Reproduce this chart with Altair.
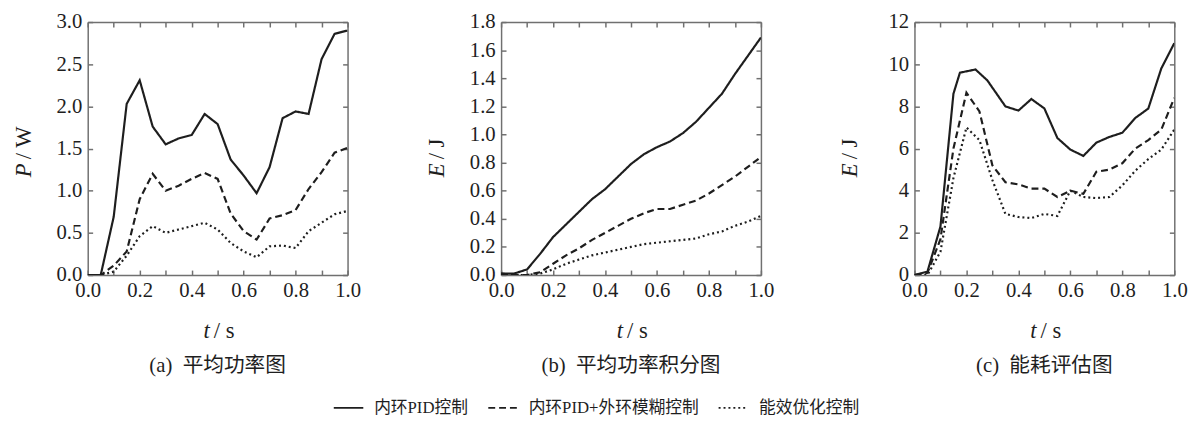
import altair as alt
import pandas as pd

# ---------------- data ----------------
SERIES = ["内环PID控制", "内环PID+外环模糊控制", "能效优化控制"]

T = [0.0, 0.05, 0.1, 0.15, 0.2, 0.25, 0.3, 0.35, 0.4, 0.45, 0.5,
     0.55, 0.6, 0.65, 0.7, 0.75, 0.8, 0.85, 0.9, 0.95, 1.0]

# (a) average power P / W
A_SOLID = [0.0, 0.0, 0.69, 2.03, 2.31, 1.76, 1.55, 1.62, 1.66, 1.91, 1.79,
           1.37, 1.18, 0.97, 1.28, 1.86, 1.94, 1.91, 2.56, 2.86, 2.90]
A_DASH = [0.0, 0.0, 0.11, 0.28, 0.90, 1.20, 1.00, 1.06, 1.14, 1.21, 1.14,
          0.73, 0.52, 0.42, 0.67, 0.71, 0.77, 1.02, 1.22, 1.45, 1.51]
A_DOT = [0.0, 0.0, 0.04, 0.23, 0.46, 0.58, 0.50, 0.54, 0.58, 0.62, 0.54,
         0.38, 0.28, 0.21, 0.34, 0.35, 0.32, 0.52, 0.62, 0.72, 0.76]

# (b) integral of average power E / J
B_SOLID = [0.01, 0.01, 0.04, 0.15, 0.27, 0.36, 0.45, 0.54, 0.61, 0.70, 0.79,
           0.86, 0.91, 0.95, 1.01, 1.09, 1.19, 1.29, 1.43, 1.56, 1.69]
B_DASH = [0.01, 0.0, 0.0, 0.02, 0.08, 0.14, 0.19, 0.25, 0.30, 0.35, 0.40,
          0.44, 0.47, 0.47, 0.50, 0.53, 0.58, 0.64, 0.70, 0.77, 0.84]
B_DOT = [0.0, 0.0, 0.0, 0.01, 0.04, 0.08, 0.11, 0.14, 0.16, 0.18, 0.20,
         0.22, 0.23, 0.24, 0.25, 0.26, 0.29, 0.31, 0.35, 0.38, 0.42]

# (c) energy consumption estimate E / J
C_T_SOLID = [0.0, 0.05, 0.1, 0.15, 0.175, 0.235, 0.28, 0.35, 0.4, 0.45, 0.5,
             0.55, 0.6, 0.65, 0.7, 0.75, 0.8, 0.85, 0.9, 0.95, 1.0]
C_SOLID = [0.0, 0.16, 2.3, 8.6, 9.6, 9.75, 9.24, 8.0, 7.8, 8.35, 7.9,
           6.5, 5.95, 5.65, 6.28, 6.55, 6.75, 7.45, 7.9, 9.8, 11.0]
C_DASH = [0.0, 0.1, 1.7, 6.0, 8.65, 7.76, 5.2, 4.4, 4.3, 4.1, 4.1,
          3.7, 4.0, 3.85, 4.9, 5.0, 5.3, 6.0, 6.4, 6.9, 8.4]
C_DOT = [0.0, 0.0, 1.1, 4.6, 7.0, 6.4, 4.5, 2.9, 2.75, 2.7, 2.9,
         2.8, 4.0, 3.7, 3.65, 3.7, 4.25, 4.95, 5.5, 5.95, 6.9]

X_TICKS = [0.0, 0.1, 0.2, 0.3, 0.4, 0.5, 0.6, 0.7, 0.8, 0.9, 1.0]
A_YTICKS = [0.0, 0.5, 1.0, 1.5, 2.0, 2.5, 3.0]
B_YTICKS = [0.0, 0.2, 0.4, 0.6, 0.8, 1.0, 1.2, 1.4, 1.6, 1.8]
C_YTICKS = [0, 2, 4, 6, 8, 10, 12]

SUBTITLES = ["(a)\u00a0\u00a0平均功率图", "(b)\u00a0\u00a0平均功率积分图", "(c)\u00a0\u00a0能耗评估图"]

# ---------------- style ----------------
W, H = 264, 257
SERIF = "Liberation Serif"
MIXED = "Liberation Serif, Noto Sans CJK SC"
INK = "#1e1e1e"
FRAME = "#707070"
DASHES = [[1, 0], [7, 4], [2, 3]]


def make_df(parts):
    rows = []
    for name, ts, vs in parts:
        for t, v in zip(ts, vs):
            rows.append({"t": t, "v": v, "s": name})
    return pd.DataFrame(rows)


ONE = pd.DataFrame({"k": [0]})


def txt(text, x, y, **kw):
    return alt.Chart(ONE).mark_text(text=text, color=INK, **kw).encode(
        x=alt.value(x), y=alt.value(y))


LEGEND = alt.Legend(title=None, orient="none", legendX=249, legendY=376,
                    direction="horizontal", columns=3, symbolType="stroke",
                    symbolSize=900, symbolStrokeWidth=2, symbolStrokeColor=INK,
                    labelFont=MIXED, labelFontSize=17, labelColor=INK,
                    labelOffset=10, columnPadding=16, labelLimit=0)


def panel(df, ydom, yticks, yfmt, yvar, yunit, subtitle):
    xs = alt.Scale(domain=[0, 1], nice=False, zero=False)
    ys = alt.Scale(domain=ydom, nice=False, zero=False)
    tick = dict(grid=False, domain=False, tickColor=FRAME, tickWidth=1.5,
                tickSize=5, offset=-5, title=None)
    frame = dict(grid=False, domain=True, domainColor=FRAME, domainWidth=1.5,
                 ticks=False, labels=False, offset=0, title=None)
    x_axis = alt.Axis(orient="bottom", values=X_TICKS,
                      labelExpr="round(datum.value*10) % 2 == 0 ? format(datum.value, '.1f') : ''",
                      labelFont=SERIF, labelFontSize=21, labelColor=INK,
                      labelPadding=5, labelFlush=False, labelOverlap=False,
                      **tick)
    y_axis = alt.Axis(orient="left", values=yticks, format=yfmt,
                      labelFont=SERIF, labelFontSize=21, labelColor=INK,
                      labelPadding=6, labelFlush=False, labelOverlap=False,
                      **tick)

    dash = alt.StrokeDash("s:N", scale=alt.Scale(domain=SERIES, range=DASHES),
                          legend=LEGEND)
    lines = alt.Chart(df).mark_line(color=INK, strokeWidth=2.2, clip=True).encode(
        x=alt.X("t:Q", scale=xs, axis=x_axis),
        y=alt.Y("v:Q", scale=ys, axis=y_axis),
        strokeDash=dash,
    )

    def ghost(xa, ya):
        return alt.Chart(df).mark_point(opacity=0, size=0).encode(
            x=alt.X("t:Q", scale=xs, axis=xa),
            y=alt.Y("v:Q", scale=ys, axis=ya),
        )

    mirror = ghost(alt.Axis(orient="top", values=X_TICKS, labels=False, **tick),
                   alt.Axis(orient="right", values=yticks, labels=False, **tick))
    frame_bl = ghost(alt.Axis(orient="bottom", **frame),
                     alt.Axis(orient="left", **frame))
    frame_tr = ghost(alt.Axis(orient="top", **frame),
                     alt.Axis(orient="right", **frame))
    cx = W / 2
    cy = H / 2
    layers = [
        lines, mirror, frame_bl, frame_tr,
        txt("t", cx - 8, H + 64, align="right", baseline="alphabetic",
            font=SERIF, fontSize=23, fontStyle="italic"),
        txt("/ s", cx - 4, H + 64, align="left", baseline="alphabetic",
            font=SERIF, fontSize=23),
        txt(yvar, -58, cy + 15, align="right", baseline="alphabetic",
            angle=270, font=SERIF, fontSize=23, fontStyle="italic"),
        txt("/ " + yunit, -58, cy + 11, align="left", baseline="alphabetic",
            angle=270, font=SERIF, fontSize=23),
        txt(subtitle, cx, H + 93, align="center", baseline="middle",
            font=MIXED, fontSize=21),
    ]
    return alt.layer(*layers).resolve_axis(x="independent", y="independent").properties(
        width=W, height=H)


df_a = make_df([(SERIES[0], T, A_SOLID), (SERIES[1], T, A_DASH), (SERIES[2], T, A_DOT)])
df_b = make_df([(SERIES[0], T, B_SOLID), (SERIES[1], T, B_DASH), (SERIES[2], T, B_DOT)])
df_c = make_df([(SERIES[0], C_T_SOLID, C_SOLID), (SERIES[1], T, C_DASH), (SERIES[2], T, C_DOT)])

pa = panel(df_a, [0, 3], A_YTICKS, ".1f", "P", "W", SUBTITLES[0])
pb = panel(df_b, [0, 1.8], B_YTICKS, ".1f", "E", "J", SUBTITLES[1])
pc = panel(df_c, [0, 12], C_YTICKS, "d", "E", "J", SUBTITLES[2])

chart = alt.hconcat(pa, pb, pc, spacing=66).properties(
    padding={"left": 5, "top": 0, "right": 5, "bottom": 0},
    background="white",
).configure_view(stroke=None)

chart.save("out.html", embed_options={"renderer": "svg", "actions": False})
